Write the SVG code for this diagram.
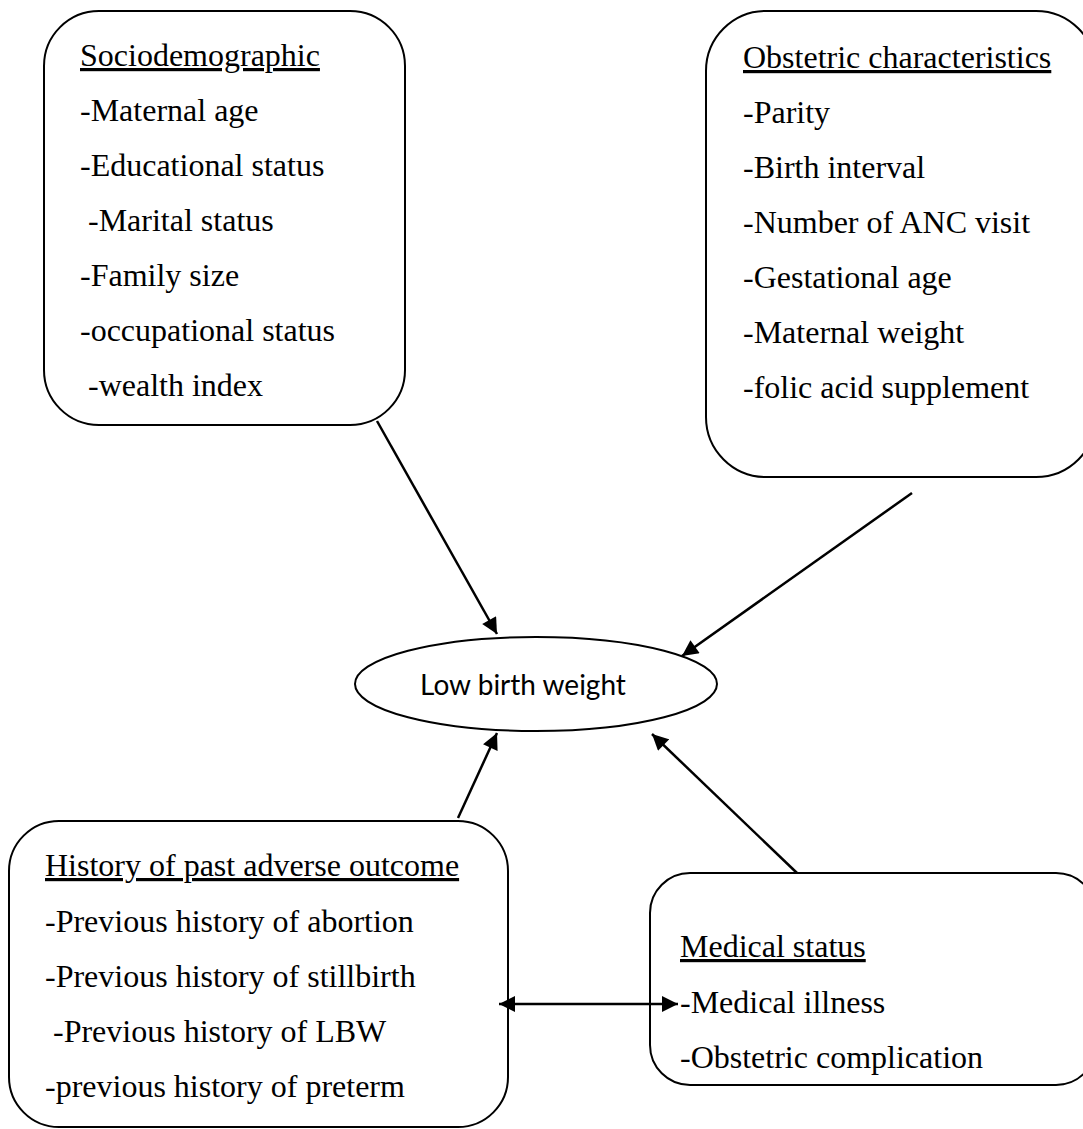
<svg xmlns="http://www.w3.org/2000/svg" width="1083" height="1129" viewBox="0 0 1083 1129">
<style>
.box{fill:#fff;stroke:#000;stroke-width:2}
.t{font-family:"Liberation Serif","Times New Roman",serif;font-size:32px;fill:#000}
.h{text-decoration:underline}
.s{font-family:"Lato","Carlito","Liberation Sans",sans-serif;font-size:28px;fill:#000}
.c{stroke:#000;stroke-width:2.5;fill:none}
</style>
<defs>
<marker id="ahb" viewBox="0 0 10 10" refX="10" refY="5" markerWidth="18" markerHeight="16" markerUnits="userSpaceOnUse" orient="auto-start-reverse">
<path d="M0,0 L10,5 L0,10 z" fill="#000"/>
</marker>
</defs>
<rect width="1083" height="1129" fill="#fff"/>
<g id="node-sociodemographic">
<rect class="box" x="44" y="11" width="361" height="414" rx="55" ry="55"/>
<text class="t h" x="80" y="66">Sociodemographic</text>
<text class="t" x="80" y="121">-Maternal age</text>
<text class="t" x="80" y="176">-Educational status</text>
<text class="t" x="88" y="231">-Marital status</text>
<text class="t" x="80" y="286">-Family size</text>
<text class="t" x="80" y="341">-occupational status</text>
<text class="t" x="88" y="396">-wealth index</text>
</g>
<g id="node-obstetric">
<rect class="box" x="706" y="11" width="390" height="466" rx="60" ry="60"/>
<text class="t h" x="743" y="68">Obstetric characteristics</text>
<text class="t" x="743" y="123">-Parity</text>
<text class="t" x="743" y="178">-Birth interval</text>
<text class="t" x="743" y="233">-Number of ANC visit</text>
<text class="t" x="743" y="288">-Gestational age</text>
<text class="t" x="743" y="343">-Maternal weight</text>
<text class="t" x="743" y="398">-folic acid supplement</text>
</g>
<g id="node-lbw">
<ellipse class="box" cx="536" cy="684" rx="181" ry="47"/>
<text class="s" x="523" y="695" text-anchor="middle">Low birth weight</text>
</g>
<g id="node-history">
<rect class="box" x="9" y="821" width="499" height="306" rx="50" ry="50"/>
<text class="t h" x="45" y="876">History of past adverse outcome</text>
<text class="t" x="45" y="932">-Previous history of abortion</text>
<text class="t" x="45" y="987">-Previous history of stillbirth</text>
<text class="t" x="53" y="1042">-Previous history of LBW</text>
<text class="t" x="45" y="1097">-previous history of preterm</text>
</g>
<g id="node-medical">
<rect class="box" x="650" y="873" width="446" height="212" rx="40" ry="40"/>
<text class="t h" x="680" y="957">Medical status</text>
<text class="t" x="680" y="1013">-Medical illness</text>
<text class="t" x="680" y="1068">-Obstetric complication</text>
</g>
<g id="connectors">
<line class="c" x1="377" y1="421" x2="497" y2="634" marker-end="url(#ahb)"/>
<line class="c" x1="912" y1="493" x2="682" y2="656" marker-end="url(#ahb)"/>
<line class="c" x1="458" y1="818" x2="497" y2="733" marker-end="url(#ahb)"/>
<line class="c" x1="797" y1="873" x2="652" y2="734" marker-end="url(#ahb)"/>
<line class="c" x1="499" y1="1004" x2="678" y2="1004" marker-start="url(#ahb)" marker-end="url(#ahb)"/>
</g>
</svg>
